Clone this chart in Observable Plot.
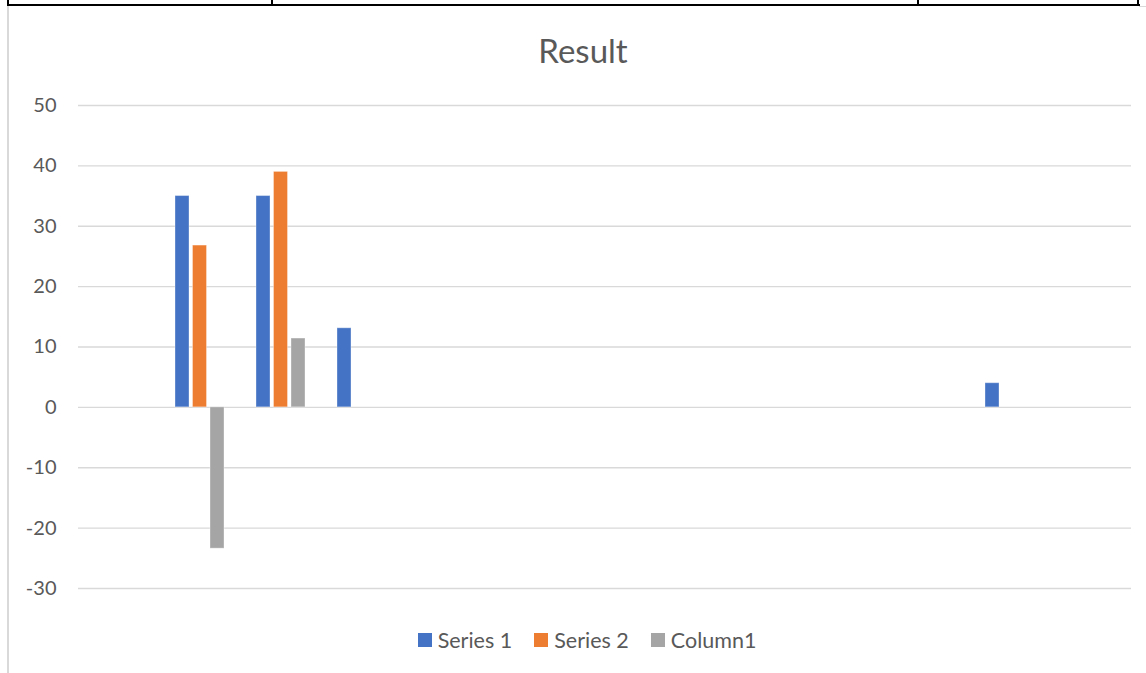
<!DOCTYPE html>
<html>
<head>
<meta charset="utf-8">
<script src="https://cdn.jsdelivr.net/npm/d3@7"></script>
<script src="https://cdn.jsdelivr.net/npm/@observablehq/plot@0.6"></script>
<style>
  html, body { margin: 0; padding: 0; background: #fff; }
  #wrap { position: relative; width: 1146px; height: 673px; overflow: hidden; font-family: Lato, "Open Sans", sans-serif; }
  .deco { position: absolute; }
  #title { position: absolute; left: 0; width: 1166px; top: 28px; text-align: center; font-size: 33px; color: #595959; line-height: 44px; }
  #chart { position: absolute; left: 0; top: 80px; }
  #legend { position: absolute; left: 0; width: 1174px; top: 627px; display: flex; justify-content: center; gap: 22px; font-size: 21.5px; color: #595959; line-height: 26px; }
  .item { display: flex; align-items: center; gap: 6px; }
  .sw { width: 14px; height: 14px; display: inline-block; }
</style>
</head>
<body>
<div id="wrap">
  <div class="deco" style="left:7px;top:6px;width:2px;height:667px;background:#d9d9d9"></div>
  <div class="deco" style="left:1139px;top:6px;width:7px;height:1px;background:#d9d9d9"></div>
  <div class="deco" style="left:7px;top:4px;width:1133px;height:2px;background:#000"></div>
  <div class="deco" style="left:7px;top:0;width:2px;height:6px;background:#000"></div>
  <div class="deco" style="left:271px;top:0;width:2px;height:6px;background:#000"></div>
  <div class="deco" style="left:917px;top:0;width:2px;height:6px;background:#000"></div>
  <div class="deco" style="left:1137px;top:0;width:2px;height:6px;background:#000"></div>
  <div id="title">Result</div>
  <div id="chart"></div>
  <div id="legend"></div>
</div>
<script>
// Data
const categories = ["1","2","3","4","5","6","7","8","9","10","11","12","13"];
const seriesNames = ["Series 1", "Series 2", "Column1"];
const series1 = [null, 35, 35, 13.1, null, null, null, null, null, null, null, 4, null];
const series2 = [null, 26.8, 39, null, null, null, null, null, null, null, null, null, null];
const column1 = [null, -23.4, 11.4, null, null, null, null, null, null, null, null, null, null];
const yTicks = [-30, -20, -10, 0, 10, 20, 30, 40, 50];
const colors = ["#4472C4", "#ED7D31", "#A5A5A5"];

const allSeries = [series1, series2, column1];
const rowsFor = (si) => allSeries[si]
  .map((v, ci) => ({category: categories[ci], series: seriesNames[si], value: v}))
  .filter(d => d.value !== null);

const offsets = [-17.5, 0, 17.5];

const chart = Plot.plot({
  width: 1146,
  height: 540,
  marginTop: 25,
  marginBottom: 32,
  marginLeft: 78,
  marginRight: 15,
  style: {fontFamily: "Lato, 'Open Sans', sans-serif", fontSize: "20px", color: "#595959", background: "transparent"},
  x: {domain: categories, padding: 0, axis: null},
  y: {domain: [-30, 50], ticks: yTicks, tickSize: 0, tickPadding: 22, label: null, tickFormat: d => d},
  color: {domain: seriesNames, range: colors},
  marks: [
    Plot.ruleY(yTicks, {stroke: "#d9d9d9", strokeWidth: 1.3}),
    ...seriesNames.map((name, si) => Plot.barY(rowsFor(si), {
      x: "category", y: "value", fill: "series",
      insetLeft: 33.5, insetRight: 33.5, dx: offsets[si],
      stroke: "#ffffff", strokeOpacity: 0.35, strokeWidth: 1
    }))
  ]
});
document.getElementById("chart").appendChild(chart);

const legend = document.getElementById("legend");
seriesNames.forEach((name, i) => {
  const item = document.createElement("div");
  item.className = "item";
  const sw = document.createElement("span");
  sw.className = "sw";
  sw.style.background = colors[i];
  const label = document.createElement("span");
  label.textContent = name;
  item.appendChild(sw);
  item.appendChild(label);
  legend.appendChild(item);
});
</script>
</body>
</html>
